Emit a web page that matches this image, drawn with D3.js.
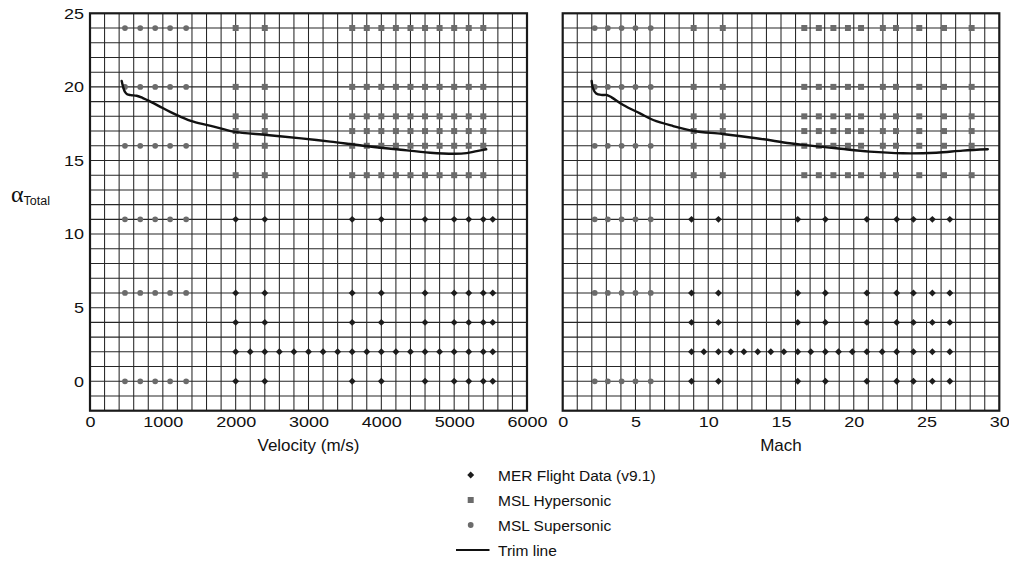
<!DOCTYPE html>
<html>
<head>
<meta charset="utf-8">
<script src="https://cdn.jsdelivr.net/npm/d3@7/dist/d3.min.js"></script>
<style>
  html, body { margin: 0; padding: 0; background: #fff; }
  svg { display: block; font-family: "Liberation Sans", Arial, Helvetica, sans-serif; }
</style>
</head>
<body>
<svg id="chart" width="1009" height="561"></svg>
<script>
// ---- tick labels ----
const velTicks = [0, 1000, 2000, 3000, 4000, 5000, 6000];
const machTicks = [0, 5, 10, 15, 20, 25, 30];
const alphaTicks = [0, 5, 10, 15, 20, 25];

// ---- MER flight data (diamonds) ----
const merAlphaSparse = [0, 4, 6, 11];
const merVelSparse = [2000, 2400, 3600, 4000, 4600, 5000, 5200, 5400, 5530];
const merMachSparse = [8.85, 10.7, 16.15, 18.05, 20.9, 22.95, 24.1, 25.4, 26.6];
const merAlphaDense = 2;
const merVelDense = [2000, 2200, 2400, 2600, 2800, 3000, 3200, 3400, 3600, 3800,
                     4000, 4200, 4400, 4600, 4800, 5000, 5200, 5400, 5530];
const merMachDense = [8.85, 9.7, 10.7, 11.55, 12.45, 13.4, 14.3, 15.2, 16.15, 17.05,
                      18.05, 18.95, 19.9, 20.9, 21.95, 22.95, 24.1, 25.4, 26.6];

// ---- MSL hypersonic matrix (squares) ----
const hypAlpha = [14, 16, 17, 18, 20, 24];
const hypVel = [2000, 2400, 3600, 3800, 4000, 4200, 4400, 4600, 4800, 5000, 5200, 5400];
const hypMach = [9.0, 11.0, 16.6, 17.6, 18.6, 19.6, 20.5, 22.0, 22.9, 24.5, 26.2, 28.1];

// ---- MSL supersonic matrix (circles) ----
const supAlpha = [0, 6, 11, 16, 20, 24];
const supVel = [480, 690, 895, 1100, 1320];
const supMach = [2.2, 3.1, 4.05, 5.0, 6.05];

// ---- trim line ----
const trimVel = [435, 455, 478, 510, 560, 640, 720, 850, 960, 1100, 1240, 1420, 1700,
                 1970, 2430, 2900, 3300, 3750, 4210, 4670, 5000, 5170, 5310, 5440];
const trimVelAlpha = [20.4, 20.0, 19.68, 19.5, 19.44, 19.4, 19.26, 18.95, 18.66, 18.3, 17.98, 17.64, 17.3,
                      16.96, 16.73, 16.5, 16.28, 16.0, 15.76, 15.53, 15.46, 15.5, 15.64, 15.76];
const trimMach = [1.99, 2.08, 2.3, 2.7, 3.02, 3.36, 4.16, 5.31, 6.22, 7.59, 9.03, 10.98,
                  13.3, 15.6, 16.51, 18.8, 21.09, 23.38, 25.67, 27.49, 29.21];
const trimMachAlpha = [20.4, 19.9, 19.55, 19.45, 19.45, 19.29, 18.77, 18.2, 17.75, 17.34, 17.0, 16.8,
                       16.51, 16.17, 16.06, 15.83, 15.6, 15.49, 15.53, 15.67, 15.76];

const legendItems = [
  { label: "MER Flight Data (v9.1)", type: "diamond" },
  { label: "MSL Hypersonic", type: "square" },
  { label: "MSL Supersonic", type: "circle" },
  { label: "Trim line", type: "line" }
];

// ---- layout ----
const svg = d3.select("#chart");
const yTop = 13.3, yBot = 410.7;
const y = d3.scaleLinear().domain([-2, 25]).range([yBot, yTop]);
const xVel = d3.scaleLinear().domain([0, 6000]).range([90, 527]);
const xMach = d3.scaleLinear().domain([0, 30]).range([562.7, 999.3]);

const gridColor = "#262626";
const greyMark = "#6b6b6b";
const darkMark = "#1c1c1c";

const symCircle = d3.symbol(d3.symbolCircle, 26)();
const symSquare = d3.symbol(d3.symbolSquare, 36)();
const symDiamond = d3.symbol(d3.symbolSquare, 24)();

function panel(x, gridStep, trimX, trimA, cols) {
  const g = svg.append("g");
  const [x0, x1] = x.domain();

  // vertical grid
  const vLines = d3.range(x0 + gridStep, x1 - gridStep / 2, gridStep);
  g.append("g").selectAll("line").data(vLines).join("line")
    .attr("x1", d => x(d)).attr("x2", d => x(d))
    .attr("y1", yTop).attr("y2", yBot)
    .attr("stroke", gridColor).attr("stroke-width", 1.05);

  // horizontal grid
  const hLines = d3.range(-1, 25, 1);
  g.append("g").selectAll("line").data(hLines).join("line")
    .attr("x1", x.range()[0]).attr("x2", x.range()[1])
    .attr("y1", d => y(d)).attr("y2", d => y(d))
    .attr("stroke", gridColor).attr("stroke-width", 1.05);

  // supersonic circles
  const sup = [];
  supAlpha.forEach(a => cols.sup.forEach(v => sup.push([v, a])));
  g.append("g").selectAll("path").data(sup).join("path")
    .attr("d", symCircle)
    .attr("transform", d => `translate(${x(d[0])},${y(d[1])})`)
    .attr("fill", greyMark);

  // hypersonic squares
  const hyp = [];
  hypAlpha.forEach(a => cols.hyp.forEach(v => hyp.push([v, a])));
  g.append("g").selectAll("path").data(hyp).join("path")
    .attr("d", symSquare)
    .attr("transform", d => `translate(${x(d[0])},${y(d[1])})`)
    .attr("fill", greyMark);

  // MER diamonds
  const mer = [];
  merAlphaSparse.filter(a => a !== merAlphaDense)
    .forEach(a => cols.merSparse.forEach(v => mer.push([v, a])));
  cols.merDense.forEach(v => mer.push([v, merAlphaDense]));
  g.append("g").selectAll("path").data(mer).join("path")
    .attr("d", symDiamond)
    .attr("transform", d => `translate(${x(d[0])},${y(d[1])}) rotate(45)`)
    .attr("fill", darkMark);

  // trim line
  const pts = trimX.map((v, i) => [v, trimA[i]]);
  g.append("path")
    .datum(pts)
    .attr("d", d3.line().x(d => x(d[0])).y(d => y(d[1])).curve(d3.curveCatmullRom.alpha(0.5)))
    .attr("fill", "none").attr("stroke", "#111").attr("stroke-width", 2.4)
    .attr("stroke-linejoin", "round").attr("stroke-linecap", "round");

  // frame
  g.append("rect")
    .attr("x", x.range()[0]).attr("y", yTop)
    .attr("width", x.range()[1] - x.range()[0]).attr("height", yBot - yTop)
    .attr("fill", "none").attr("stroke", "#1a1a1a").attr("stroke-width", 2.2);

  // x tick labels
  const ax = d3.axisBottom(x).tickValues(cols.ticks).tickSize(0).tickPadding(6)
    .tickFormat(d3.format("d"));
  const axG = g.append("g").attr("transform", `translate(0,${yBot})`).call(ax);
  axG.select(".domain").remove();
  axG.selectAll("text").attr("font-size", 15).attr("fill", "#111")
    .attr("font-family", "Liberation Sans, Arial, sans-serif")
    .attr("transform", "scale(1.2,1)");
  return g;
}

panel(xVel, 200, trimVel, trimVelAlpha,
  { sup: supVel, hyp: hypVel, merSparse: merVelSparse, merDense: merVelDense, ticks: velTicks });
panel(xMach, 1, trimMach, trimMachAlpha,
  { sup: supMach, hyp: hypMach, merSparse: merMachSparse, merDense: merMachDense, ticks: machTicks });

// y tick labels (left panel only)
const ay = d3.axisLeft(y).tickValues(alphaTicks).tickSize(0).tickPadding(5);
const ayG = svg.append("g").attr("transform", `translate(${xVel.range()[0]},0)`).call(ay);
ayG.select(".domain").remove();
ayG.selectAll("text").attr("font-size", 15).attr("fill", "#111")
  .attr("font-family", "Liberation Sans, Arial, sans-serif")
  .attr("transform", "scale(1.2,1)");

// axis titles
svg.append("text")
  .attr("x", (xVel.range()[0] + xVel.range()[1]) / 2).attr("y", 451)
  .attr("text-anchor", "middle").attr("font-size", 17).attr("fill", "#111")
  .text("Velocity (m/s)");
svg.append("text")
  .attr("x", (xMach.range()[0] + xMach.range()[1]) / 2).attr("y", 451)
  .attr("text-anchor", "middle").attr("font-size", 17).attr("fill", "#111")
  .text("Mach");

const yTitle = svg.append("text").attr("x", 11).attr("y", 202).attr("fill", "#111");
yTitle.append("tspan").attr("font-family", "Liberation Serif, Times New Roman, serif")
  .attr("font-size", 24).text("α");
yTitle.append("tspan").attr("font-size", 12.5).attr("dy", 3).text("Total");

// legend
const legend = svg.append("g");
const legX = 470.7, legTextX = 498, legY0 = 475, legDy = 25;
legendItems.forEach((it, i) => {
  const cy = legY0 + i * legDy;
  if (it.type === "diamond") {
    legend.append("path").attr("d", symDiamond)
      .attr("transform", `translate(${legX},${cy}) rotate(45)`).attr("fill", darkMark);
  } else if (it.type === "square") {
    legend.append("path").attr("d", symSquare)
      .attr("transform", `translate(${legX},${cy})`).attr("fill", greyMark);
  } else if (it.type === "circle") {
    legend.append("path").attr("d", symCircle)
      .attr("transform", `translate(${legX},${cy})`).attr("fill", greyMark);
  } else {
    legend.append("line").attr("x1", 456).attr("x2", 489.5)
      .attr("y1", cy).attr("y2", cy).attr("stroke", "#111").attr("stroke-width", 2);
  }
  legend.append("text").attr("x", legTextX).attr("y", cy + 5.5)
    .attr("font-size", 15.5).attr("fill", "#111").text(it.label);
});
</script>
</body>
</html>
